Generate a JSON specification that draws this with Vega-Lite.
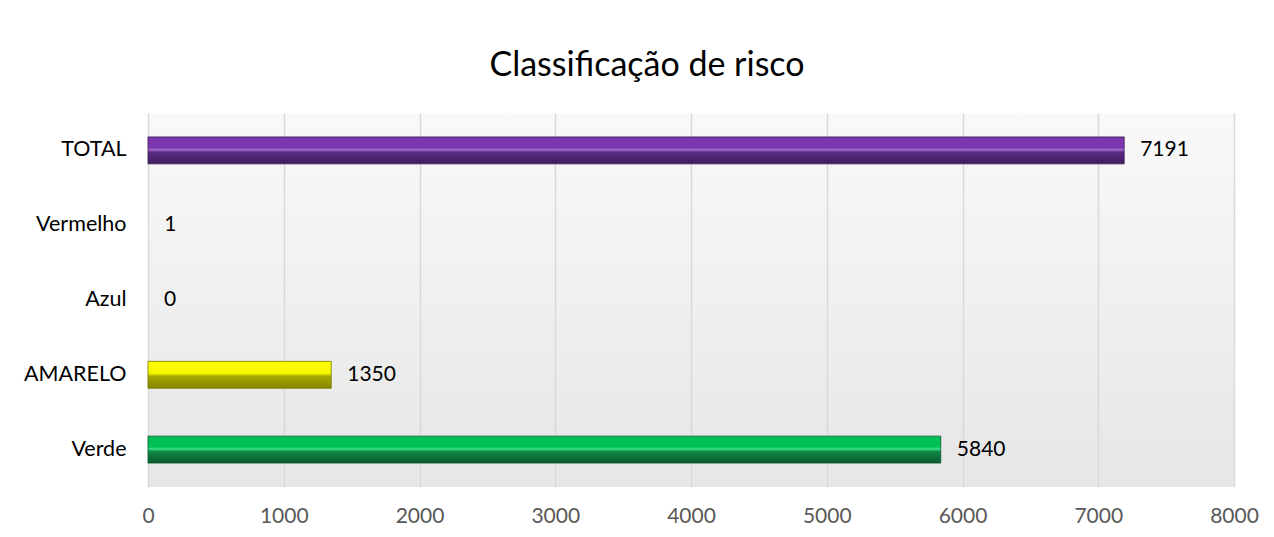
{
  "$schema": "https://vega.github.io/schema/vega-lite/v6.json",
  "width": 1086,
  "height": 374,
  "autosize": {"type": "none"},
  "padding": {"left": 148, "top": 113, "right": 40, "bottom": 50},
  "background": "white",
  "title": {
    "text": "Classificação de risco",
    "fontSize": 34,
    "font": "Lato",
    "fontWeight": "normal",
    "color": "#000000",
    "anchor": "middle",
    "dx": -44,
    "offset": 30
  },
  "data": {
    "values": [
      {"categoria": "TOTAL", "valor": 7191, "grupo": "roxo"},
      {"categoria": "Vermelho", "valor": 1, "grupo": "nenhum"},
      {"categoria": "Azul", "valor": 0, "grupo": "nenhum"},
      {"categoria": "AMARELO", "valor": 1350, "grupo": "amarelo"},
      {"categoria": "Verde", "valor": 5840, "grupo": "verde"}
    ]
  },
  "encoding": {
    "y": {
      "field": "categoria",
      "type": "nominal",
      "sort": ["TOTAL", "Vermelho", "Azul", "AMARELO", "Verde"],
      "scale": {"paddingInner": 0.64, "paddingOuter": 0.32},
      "axis": {
        "title": null,
        "ticks": false,
        "domain": false,
        "grid": false,
        "labelFont": "Lato",
        "labelFontSize": 21.5,
        "labelColor": "#000000",
        "labelPadding": 22
      }
    },
    "x": {
      "field": "valor",
      "type": "quantitative",
      "scale": {"domain": [0, 8000], "nice": false},
      "axis": {
        "title": null,
        "values": [0, 1000, 2000, 3000, 4000, 5000, 6000, 7000, 8000],
        "ticks": false,
        "domain": false,
        "grid": true,
        "gridColor": "#d9d9d9",
        "gridWidth": 1.5,
        "labelFont": "Lato",
        "labelFontSize": 21,
        "labelColor": "#595959",
        "labelPadding": 18,
        "format": "d",
        "labelFlush": false
      }
    }
  },
  "layer": [
    {
      "transform": [{"filter": "datum.grupo == 'roxo'"}],
      "mark": {
        "type": "bar",
        "stroke": "#3a1a55",
        "strokeWidth": 0.8,
        "color": {
          "gradient": "linear", "x1": 0, "y1": 0, "x2": 0, "y2": 1,
          "stops": [
            {"offset": 0, "color": "#7b36ad"},
            {"offset": 0.4, "color": "#7b36ad"},
            {"offset": 0.48, "color": "#a670d0"},
            {"offset": 0.56, "color": "#5c2b86"},
            {"offset": 1, "color": "#3e1c5b"}
          ]
        }
      }
    },
    {
      "transform": [{"filter": "datum.grupo == 'amarelo'"}],
      "mark": {
        "type": "bar",
        "stroke": "#7a7a00",
        "strokeWidth": 0.8,
        "color": {
          "gradient": "linear", "x1": 0, "y1": 0, "x2": 0, "y2": 1,
          "stops": [
            {"offset": 0, "color": "#ffff00"},
            {"offset": 0.45, "color": "#f4f400"},
            {"offset": 0.55, "color": "#a8a800"},
            {"offset": 1, "color": "#858500"}
          ]
        }
      }
    },
    {
      "transform": [{"filter": "datum.grupo == 'verde'"}],
      "mark": {
        "type": "bar",
        "stroke": "#0a5a2e",
        "strokeWidth": 0.8,
        "color": {
          "gradient": "linear", "x1": 0, "y1": 0, "x2": 0, "y2": 1,
          "stops": [
            {"offset": 0, "color": "#00c055"},
            {"offset": 0.4, "color": "#00c055"},
            {"offset": 0.48, "color": "#3ee08a"},
            {"offset": 0.56, "color": "#0f8a45"},
            {"offset": 1, "color": "#0b5a30"}
          ]
        }
      }
    },
    {
      "mark": {
        "type": "text",
        "align": "left",
        "baseline": "middle",
        "dx": 16,
        "font": "Lato",
        "fontSize": 21,
        "color": "#000000"
      },
      "encoding": {
        "text": {"field": "valor", "type": "quantitative", "format": "d"}
      }
    }
  ],
  "config": {
    "view": {
      "stroke": null,
      "fill": {
        "gradient": "linear", "x1": 0, "y1": 0, "x2": 0, "y2": 1,
        "stops": [
          {"offset": 0, "color": "#f9f9f9"},
          {"offset": 1, "color": "#e6e6e6"}
        ]
      }
    }
  }
}
